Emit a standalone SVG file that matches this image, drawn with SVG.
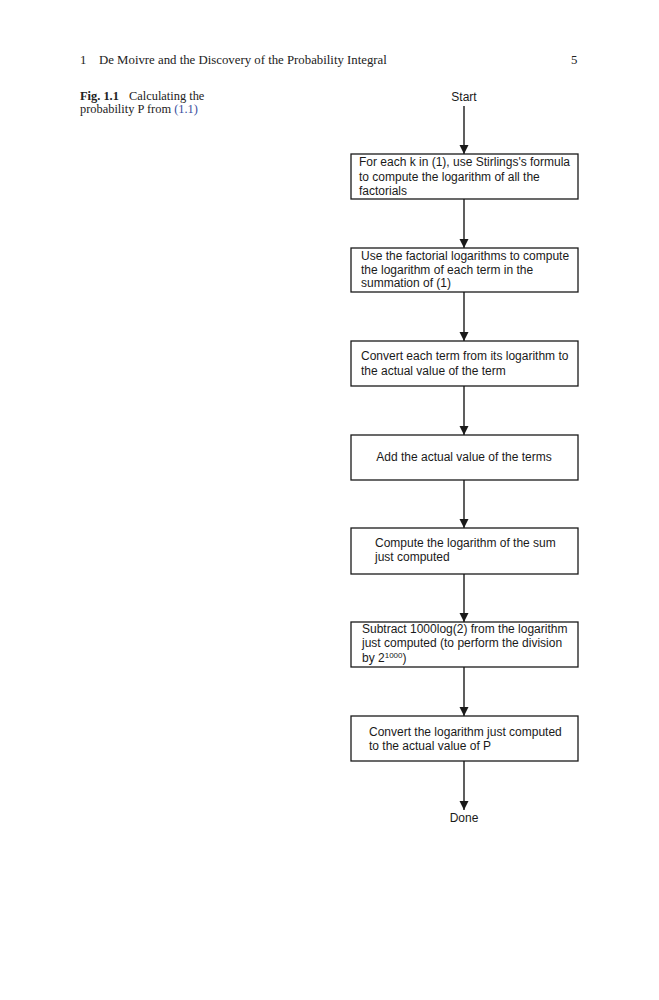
<svg xmlns="http://www.w3.org/2000/svg" width="659" height="1000" viewBox="0 0 659 1000">
<style>
.hdr{font-family:"Liberation Serif",serif;font-size:12.8px;fill:#222}
.cap{font-family:"Liberation Serif",serif;font-size:12.4px;fill:#222}
.t{font-family:"Liberation Sans",Arial,sans-serif;font-size:12px;fill:#1a1a1a}
.box{fill:#fff;stroke:#1a1a1a;stroke-width:1.3}
.line{stroke:#1a1a1a;stroke-width:1.4;fill:none}
</style>
<defs>
<marker id="ah" viewBox="0 0 10 10" refX="10" refY="5" markerWidth="9" markerHeight="10" markerUnits="userSpaceOnUse" orient="auto">
<path d="M0,0 L10,5 L0,10 Z" fill="#1a1a1a"/>
</marker>
</defs>
<rect width="659" height="1000" fill="#fff"/>
<g id="header">
<text class="hdr" x="80" y="64">1</text>
<text class="hdr" x="99" y="64">De Moivre and the Discovery of the Probability Integral</text>
<text class="hdr" x="571" y="64">5</text>
</g>
<g id="caption">
<text class="cap" x="80" y="100"><tspan font-weight="bold">Fig. 1.1</tspan><tspan x="129">Calculating the</tspan></text>
<text class="cap" x="80" y="113">probability P from <tspan fill="#3a4fa0">(1.1)</tspan></text>
</g>
<g id="connectors">
<line class="line" x1="464" y1="106" x2="464" y2="154" marker-end="url(#ah)"/>
<line class="line" x1="464" y1="199" x2="464" y2="248" marker-end="url(#ah)"/>
<line class="line" x1="464" y1="292" x2="464" y2="341" marker-end="url(#ah)"/>
<line class="line" x1="464" y1="386" x2="464" y2="435" marker-end="url(#ah)"/>
<line class="line" x1="464" y1="480" x2="464" y2="528" marker-end="url(#ah)"/>
<line class="line" x1="464" y1="574" x2="464" y2="622" marker-end="url(#ah)"/>
<line class="line" x1="464" y1="667" x2="464" y2="716" marker-end="url(#ah)"/>
<line class="line" x1="464" y1="761" x2="464" y2="810" marker-end="url(#ah)"/>
</g>
<g id="start"><text class="t" x="464" y="101" text-anchor="middle">Start</text></g>
<g id="n1">
<rect class="box" x="351" y="154" width="227" height="45"/>
<text class="t" x="359" y="166">For each k in (1), use Stirlings's formula</text>
<text class="t" x="359" y="181">to compute the logarithm of all the</text>
<text class="t" x="359" y="195">factorials</text>
</g>
<g id="n2">
<rect class="box" x="351" y="248" width="227" height="44"/>
<text class="t" x="361" y="260">Use the factorial logarithms to compute</text>
<text class="t" x="361" y="274">the logarithm of each term in the</text>
<text class="t" x="361" y="287">summation of (1)</text>
</g>
<g id="n3">
<rect class="box" x="351" y="341" width="227" height="45"/>
<text class="t" x="361" y="360">Convert each term from its logarithm to</text>
<text class="t" x="361" y="375">the actual value of the term</text>
</g>
<g id="n4">
<rect class="box" x="351" y="435" width="227" height="45"/>
<text class="t" x="464" y="461" text-anchor="middle">Add the actual value of the terms</text>
</g>
<g id="n5">
<rect class="box" x="351" y="528" width="227" height="46"/>
<text class="t" x="375" y="547">Compute the logarithm of the sum</text>
<text class="t" x="375" y="561">just computed</text>
</g>
<g id="n6">
<rect class="box" x="351" y="622" width="227" height="45"/>
<text class="t" x="362" y="633">Subtract 1000log(2) from the logarithm</text>
<text class="t" x="362" y="647">just computed (to perform the division</text>
<text class="t" x="362" y="662">by 2<tspan font-size="8" dy="-4">1000</tspan><tspan dy="4">)</tspan></text>
</g>
<g id="n7">
<rect class="box" x="351" y="716" width="227" height="45"/>
<text class="t" x="369" y="736">Convert the logarithm just computed</text>
<text class="t" x="369" y="750">to the actual value of P</text>
</g>
<g id="done"><text class="t" x="464" y="822" text-anchor="middle">Done</text></g>
</svg>
